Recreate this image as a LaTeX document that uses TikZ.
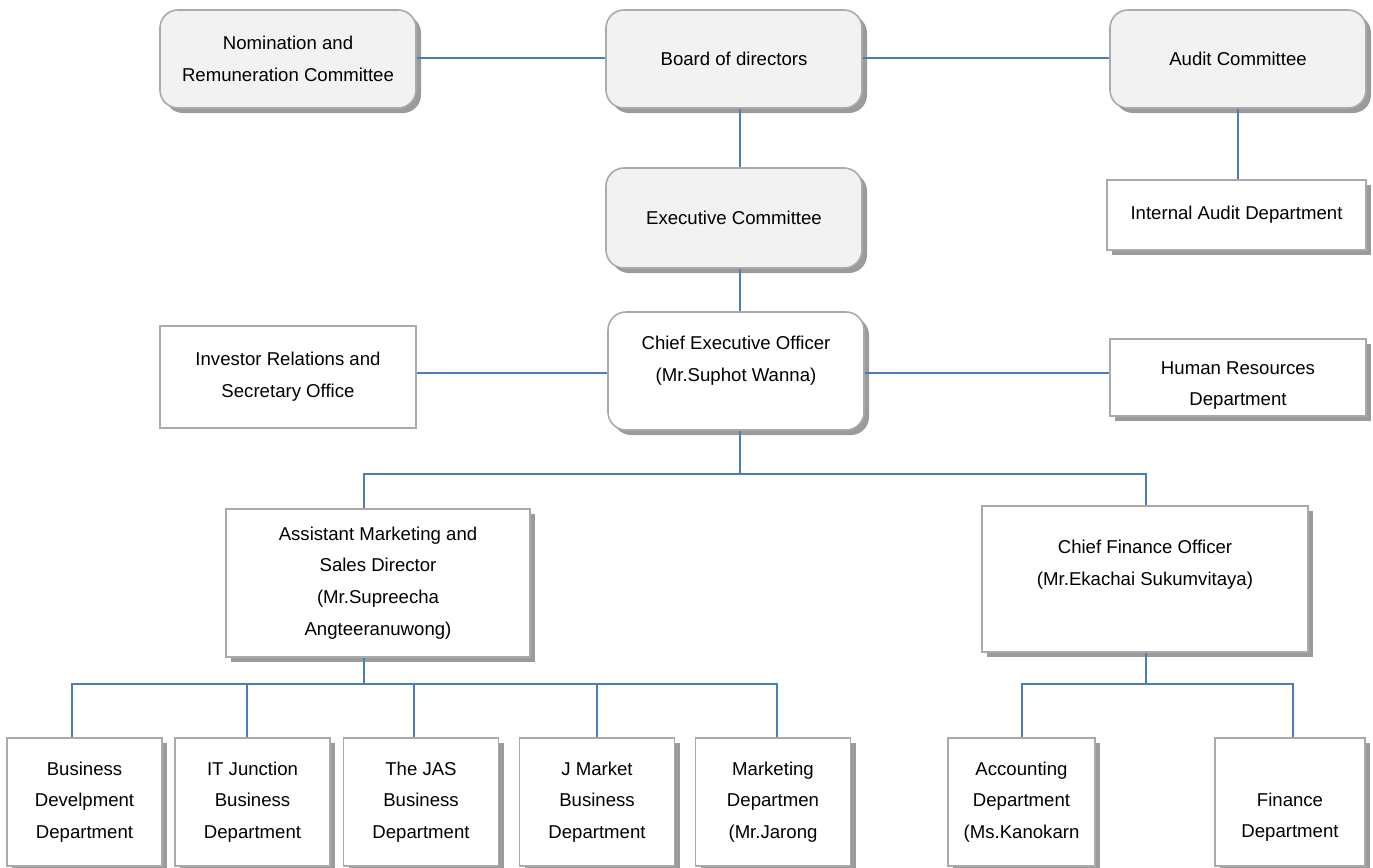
\documentclass[tikz,border=0pt]{standalone}
\usepackage{fontspec}
\setmainfont{Liberation Sans}
\usepackage{tikz}
\usetikzlibrary{calc,shadows}
\definecolor{LinkBlue}{RGB}{74,126,187}
\definecolor{FrameGray}{RGB}{170,170,170}
\definecolor{ShadowGray}{RGB}{155,155,155}
\definecolor{PanelGray}{RGB}{242,242,242}

\begin{document}
\begin{tikzpicture}[x=0.5pt, y=-0.5pt,
    font=\fontsize{9.3pt}{15.9pt}\selectfont,
    plainbox/.style={draw=FrameGray, line width=0.8pt, fill=white, align=center, inner sep=2pt},
    shadowed/.style={drop shadow={shadow xshift=2.5pt, shadow yshift=-2.5pt, fill=ShadowGray, opacity=1}},
    squarebox/.style={plainbox, shadowed},
    roundbox/.style={plainbox, shadowed, rounded corners=9pt, minimum width=128pt},
    deptbox/.style={squarebox, minimum width=77.5pt, minimum height=64pt},
    link/.style={LinkBlue, line width=0.6pt}]
    \useasboundingbox (0,0) rectangle (1373,868);

    % board level
    \node[roundbox, fill=PanelGray, minimum height=49pt] (nom) at (288,59)
        {Nomination and\\Remuneration Committee};
    \node[roundbox, fill=PanelGray, minimum height=49pt] (board) at (734,59)
        {Board of directors};
    \node[roundbox, fill=PanelGray, minimum height=49pt] (audit) at (1238,59)
        {Audit Committee};
    \node[roundbox, fill=PanelGray, minimum height=50pt] (exec) at (734,218)
        {Executive Committee};
    \node[squarebox, minimum width=129.5pt, minimum height=35pt] (intaudit) at (1236.5,215)
        {Internal Audit Department};

    % CEO level
    \node[roundbox, minimum height=59pt] (ceo) at (736,371)
        {Chief Executive Officer\\(Mr.Suphot Wanna)\\[-4pt]\mbox{}};
    \node[plainbox, minimum width=128pt, minimum height=51pt] (inv) at (288,377)
        {Investor Relations and\\Secretary Office};
    \node[squarebox, minimum width=128pt, minimum height=38.5pt] (hr) at (1238,377.5)
        {\mbox{}\\[-1.5pt]Human Resources\\Department};

    % directors
    \node[squarebox, minimum width=152pt, minimum height=74pt] (asst) at (378,583)
        {Assistant Marketing and\\Sales Director\\(Mr.Supreecha\\Angteeranuwong)};
    \node[squarebox, minimum width=163pt, minimum height=73pt] (cfo) at (1145,579)
        {Chief Finance Officer\\(Mr.Ekachai Sukumvitaya)\\\mbox{}};

    % departments
    \node[deptbox] (bd)  at (84.5,802)  {Business\\Develpment\\Department};
    \node[deptbox] (itj) at (252.5,802) {IT Junction\\Business\\Department};
    \node[deptbox] (jas) at (421,802)   {The JAS\\Business\\Department};
    \node[deptbox] (jm)  at (597,802)   {J Market\\Business\\Department};
    \node[deptbox] (mkt) at (773,802)   {Marketing\\Departmen\\(Mr.Jarong};
    \node[deptbox, minimum width=73.5pt] (acc) at (1021.5,802) {Accounting\\Department\\(Ms.Kanokarn};
    \node[deptbox, minimum width=75pt] (fin) at (1290,802) {\mbox{}\\[6pt]Finance\\Department};

    \coordinate (ytop) at (0,58);
    \coordinate (yceo) at (0,373);
    \coordinate (xc) at (740,474);
    \coordinate (xa) at (364,684);
    \coordinate (xf) at (1146,684);

    \draw[link] (nom.east |- ytop) -- (board.west |- ytop);
    \draw[link] (board.east |- ytop) -- (audit.west |- ytop);
    \draw[link] (board.south -| xc) -- (exec.north -| xc);
    \draw[link] (audit.south) -- (audit.south |- intaudit.north);
    \draw[link] (exec.south -| xc) -- (ceo.north -| xc);
    \draw[link] (inv.east |- yceo) -- (ceo.west |- yceo);
    \draw[link] (ceo.east |- yceo) -- (hr.west |- yceo);
    \draw[link] (ceo.south -| xc) -- (xc);
    \draw[link] (asst.north -| xa) |- (xc) -| (cfo.north -| xf);
    \draw[link] (asst.south -| xa) -- (xa);
    \draw[link] (cfo.south -| xf) -- (xf);
    \foreach \n/\d in {bd/-12.5, itj/-5.5, jas/-7, jm/0, mkt/4}
        \draw[link] ($(\n.north)+(\d,0)$) |- (xa);
    \foreach \n/\d in {acc/0.5, fin/3}
        \draw[link] ($(\n.north)+(\d,0)$) |- (xf);
\end{tikzpicture}
\end{document}
